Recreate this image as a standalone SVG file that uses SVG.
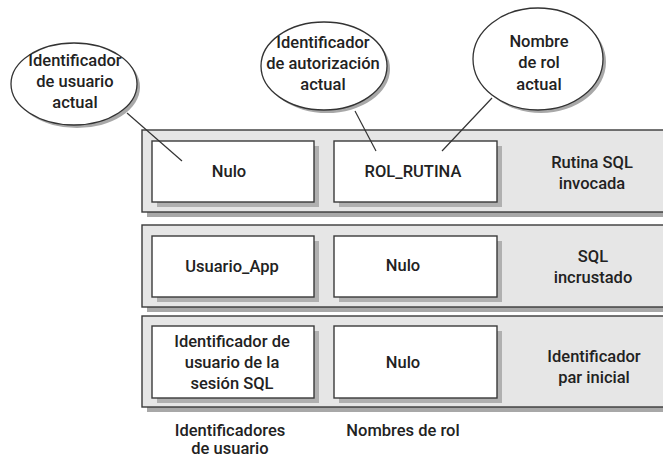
<svg xmlns="http://www.w3.org/2000/svg" width="663" height="457" viewBox="0 0 663 457">
<style>
.t{font-family:Roboto,"Liberation Sans",Arial,sans-serif;font-weight:500;font-size:16.5px;fill:#222;text-anchor:middle}
.panel{fill:#e6e6e6;stroke:#3a3a3a;stroke-width:1.4}
.pshadow{fill:#a8a8a8}
.box{fill:#fff;stroke:#3a3a3a;stroke-width:1.4}
.bshadow{fill:#b0b0b0}
.ell{fill:#fff;stroke:#333;stroke-width:1.3}
.eshadow{fill:#a8a8a8}
.conn{stroke:#333;stroke-width:1.2;fill:none}
</style>
<rect width="663" height="457" fill="#fff"/>
<g id="panel-rutina">
<rect class="pshadow" x="147" y="135" width="530" height="82"/>
<rect class="panel" x="142" y="130" width="530" height="82"/>
<text class="t" x="592" y="168">Rutina SQL</text>
<text class="t" x="592" y="189">invocada</text>
</g>
<g id="panel-embebido">
<rect class="pshadow" x="147" y="230" width="530" height="82"/>
<rect class="panel" x="142" y="225" width="530" height="82"/>
<text class="t" x="593" y="262">SQL</text>
<text class="t" x="593" y="283">incrustado</text>
</g>
<g id="panel-inicial">
<rect class="pshadow" x="147" y="321" width="530" height="91"/>
<rect class="panel" x="142" y="316" width="530" height="91"/>
<text class="t" x="594" y="362">Identificador</text>
<text class="t" x="594" y="383">par inicial</text>
</g>
<g id="box-nulo-1">
<rect class="bshadow" x="157" y="146" width="162" height="61"/>
<rect class="box" x="152" y="141" width="162" height="61"/>
<text class="t" x="229" y="177">Nulo</text>
</g>
<g id="box-rol-rutina">
<rect class="bshadow" x="339" y="146" width="163" height="61"/>
<rect class="box" x="334" y="141" width="163" height="61"/>
<text class="t" x="413" y="177">ROL_RUTINA</text>
</g>
<g id="box-usuario-app">
<rect class="bshadow" x="157" y="241" width="162" height="61"/>
<rect class="box" x="152" y="236" width="162" height="61"/>
<text class="t" x="232" y="272">Usuario_App</text>
</g>
<g id="box-nulo-2">
<rect class="bshadow" x="339" y="241" width="163" height="61"/>
<rect class="box" x="334" y="236" width="163" height="61"/>
<text class="t" x="403" y="271">Nulo</text>
</g>
<g id="box-sesion">
<rect class="bshadow" x="157" y="331" width="162" height="72"/>
<rect class="box" x="152" y="326" width="162" height="72"/>
<text class="t" x="232" y="346.5">Identificador de</text>
<text class="t" x="232" y="367.5">usuario de la</text>
<text class="t" x="232" y="388.5">sesión SQL</text>
</g>
<g id="box-nulo-3">
<rect class="bshadow" x="339" y="331" width="163" height="72"/>
<rect class="box" x="334" y="326" width="163" height="72"/>
<text class="t" x="403" y="368">Nulo</text>
</g>
<g id="ell-usuario">
<ellipse class="eshadow" cx="77" cy="87" rx="63" ry="41"/>
<ellipse class="ell" cx="74" cy="84" rx="63" ry="41"/>
<text class="t" x="75" y="66">Identificador</text>
<text class="t" x="75" y="87">de usuario</text>
<text class="t" x="75" y="108">actual</text>
</g>
<g id="ell-autorizacion">
<ellipse class="eshadow" cx="327" cy="69" rx="63" ry="44"/>
<ellipse class="ell" cx="324" cy="66" rx="63" ry="44"/>
<text class="t" x="323" y="48">Identificador</text>
<text class="t" x="323" y="69">de autorización</text>
<text class="t" x="323" y="90">actual</text>
</g>
<g id="ell-rol">
<ellipse class="eshadow" cx="541" cy="62" rx="65" ry="51"/>
<ellipse class="ell" cx="538" cy="59" rx="65" ry="51"/>
<text class="t" x="539" y="47">Nombre</text>
<text class="t" x="539" y="68">de rol</text>
<text class="t" x="539" y="90">actual</text>
</g>
<g id="connectors">
<line class="conn" x1="127" y1="113" x2="182" y2="161"/>
<line class="conn" x1="355" y1="111" x2="376" y2="151"/>
<line class="conn" x1="492" y1="98" x2="442" y2="151"/>
</g>
<g id="labels">
<text class="t" x="230" y="436">Identificadores</text>
<text class="t" x="230" y="454">de usuario</text>
<text class="t" x="403" y="436">Nombres de rol</text>
</g>
</svg>
